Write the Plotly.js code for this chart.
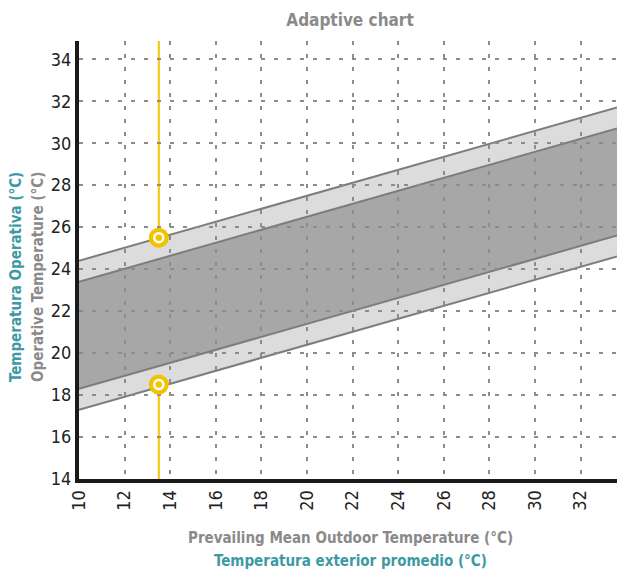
<!DOCTYPE html>
<html>
<head>
<meta charset="utf-8">
<script src="https://cdn.plot.ly/plotly-3.0.1.min.js"></script>
<style>html,body{margin:0;padding:0;background:#fff;}#chart{width:617px;height:570px;}</style>
</head>
<body>
<div id="chart"></div>
<script>
// Prevailing mean outdoor temperature at the band ends (°C)
const outdoorTemp = [10, 33.6];
// Acceptability limits of operative temperature (°C)
const lower80 = [17.3, 24.6];
const lower90 = [18.3, 25.6];
const upper90 = [23.4, 30.7];
const upper80 = [24.4, 31.7];
// Selected point
const selectedOutdoor = [13.5, 13.5];
const selectedLimits = [18.5, 25.5];
// Ticks
const xTicks = [10, 12, 14, 16, 18, 20, 22, 24, 26, 28, 30, 32];
const yTicks = [14, 16, 18, 20, 22, 24, 26, 28, 30, 32, 34];

const FONT = '"DejaVu Sans Condensed", "Liberation Sans Narrow", "Arial Narrow", sans-serif';
const GRAY = '#8a8a8a';
const TEAL = '#3d9aa5';
const YELLOW = '#f4c300';
const EDGE = '#7d7d7d';

function bandPath(lo, hi) {
  let p = 'M ' + outdoorTemp[0] + ',' + lo[0];
  p += ' L ' + outdoorTemp[1] + ',' + lo[1];
  p += ' L ' + outdoorTemp[1] + ',' + hi[1];
  p += ' L ' + outdoorTemp[0] + ',' + hi[0] + ' Z';
  return p;
}
function edge(vals) {
  return {type: 'line', xref: 'x', yref: 'y', layer: 'below',
    x0: outdoorTemp[0], y0: vals[0], x1: outdoorTemp[1], y1: vals[1],
    line: {color: EDGE, width: 2}};
}

const shapes = [
  {type: 'path', xref: 'x', yref: 'y', layer: 'below', path: bandPath(lower80, upper80),
    fillcolor: '#dcdcdc', line: {width: 0}},
  {type: 'path', xref: 'x', yref: 'y', layer: 'below', path: bandPath(lower90, upper90),
    fillcolor: '#a7a7a7', line: {width: 0}},
  edge(lower80), edge(lower90), edge(upper90), edge(upper80),
  {type: 'line', xref: 'x', yref: 'paper', layer: 'between',
    x0: selectedOutdoor[0], x1: selectedOutdoor[1], y0: 0, y1: 1,
    line: {color: YELLOW, width: 2}}
];

const traces = [
  {x: selectedOutdoor, y: selectedLimits, type: 'scatter', mode: 'markers',
    marker: {size: 20, color: YELLOW}, hoverinfo: 'skip', showlegend: false},
  {x: selectedOutdoor, y: selectedLimits, type: 'scatter', mode: 'markers',
    marker: {size: 9, color: YELLOW, line: {color: '#ffffff', width: 2.5}}, hoverinfo: 'skip', showlegend: false}
];

const L = 79, T = 41, B = 91, W = 617, H = 570;
const pw = W - L, ph = H - T - B;
const px = v => (v - L) / pw;
const py = v => (H - B - v) / ph;

const layout = {
  width: W, height: H,
  margin: {l: L, r: 0, t: T, b: B},
  paper_bgcolor: '#ffffff', plot_bgcolor: '#ffffff',
  font: {family: FONT, color: '#222222', size: 18},
  title: {text: 'Adaptive chart', x: 350 / W, xanchor: 'center', y: 1 - 20 / H, yanchor: 'middle',
    font: {family: FONT, size: 17, color: GRAY, weight: 'bold'}},
  showlegend: false,
  xaxis: {
    range: [outdoorTemp[0], outdoorTemp[1]], tickvals: xTicks, ticktext: xTicks.map(String),
    tickangle: -90, ticks: '', showline: true, linecolor: '#1a1a1a', linewidth: 4,
    showgrid: true, gridcolor: '#8c8c8c', gridwidth: 2, griddash: '4px,9px',
    zeroline: false, fixedrange: true,
    tickfont: {family: FONT, size: 18, color: '#222222'}
  },
  yaxis: {
    range: [14, 34.87], tickvals: yTicks, ticktext: yTicks.map(String),
    ticks: '', showline: true, linecolor: '#1a1a1a', linewidth: 4,
    showgrid: true, gridcolor: '#8c8c8c', gridwidth: 2, griddash: '4px,9px',
    zeroline: false, fixedrange: true,
    tickfont: {family: FONT, size: 18, color: '#222222'}
  },
  shapes: shapes,
  annotations: [
    {text: 'Temperatura Operativa (°C)', xref: 'paper', yref: 'paper', x: px(16), y: py(277),
      xanchor: 'center', yanchor: 'middle', textangle: -90, showarrow: false,
      font: {family: FONT, size: 15, color: TEAL, weight: 'bold'}},
    {text: 'Operative Temperature (°C)', xref: 'paper', yref: 'paper', x: px(38), y: py(277),
      xanchor: 'center', yanchor: 'middle', textangle: -90, showarrow: false,
      font: {family: FONT, size: 15, color: GRAY, weight: 'bold'}},
    {text: 'Prevailing Mean Outdoor Temperature (°C)', xref: 'paper', yref: 'paper', x: px(350), y: py(538),
      xanchor: 'center', yanchor: 'middle', showarrow: false,
      font: {family: FONT, size: 15, color: GRAY, weight: 'bold'}},
    {text: 'Temperatura exterior promedio (°C)', xref: 'paper', yref: 'paper', x: px(350), y: py(561),
      xanchor: 'center', yanchor: 'middle', showarrow: false,
      font: {family: FONT, size: 15, color: TEAL, weight: 'bold'}}
  ]
};

Plotly.newPlot('chart', traces, layout, {displayModeBar: false, staticPlot: true});
</script>
</body>
</html>
